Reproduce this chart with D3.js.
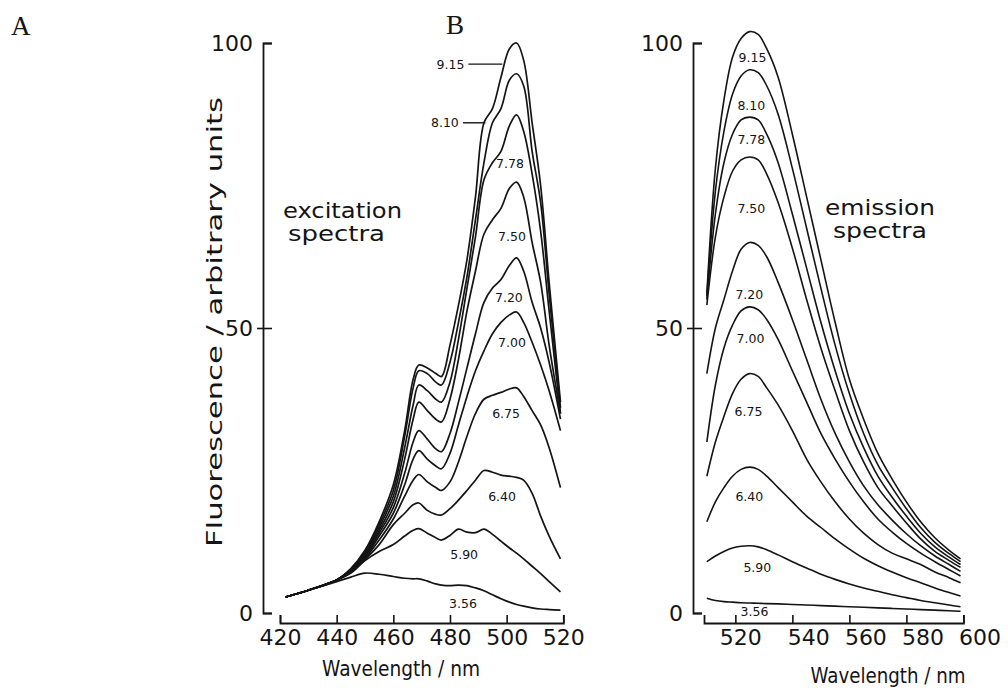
<!DOCTYPE html>
<html><head><meta charset="utf-8">
<script src="https://cdn.jsdelivr.net/npm/d3@7"></script>
<style>
html,body{margin:0;padding:0;background:#fff;}
svg{display:block;}
</style></head><body>
<svg id="chart" width="1008" height="691"></svg>
<script>
// ---------------- data ----------------
const pHLabels = ["9.15","8.10","7.78","7.50","7.20","7.00","6.75","6.40","5.90","3.56"];

const excitationWavelengths = [422,430,440,445,450,455,460,464,467,469,472,475,477,480,483,486,489,492,495,498,501,503.5,506,509,512,515,519];
const ex_915 = [2.8,4.0,5.8,7.8,11,16,22.5,32,41,43.5,43,42,41.5,47,54,62,73,86,88.5,94,99,100,97,86,75,58,37];
const ex_810 = [2.8,4.0,5.8,7.7,10.8,15.5,21.5,31,39.5,42.5,42,40.5,40,44,51,59,69,79,86,88.5,93.5,94.6,92.5,81,72,56,36];
const ex_778 = [2.8,4.0,5.8,7.6,10.5,15,20.5,29,36.5,40,39,37.5,37,40.5,48,57,66,76,79,81,85.5,87.4,84.5,77,67,53,35];
const ex_750 = [2.8,4.0,5.8,7.5,10.3,14.5,19.5,27,34,37,35.5,34,33.5,37.5,44.5,53,60,66.5,69,71,74.5,75.6,73,65,58,47,35];
const ex_720 = [2.8,4.0,5.8,7.4,10,14,18.5,24.5,30,32,30.5,28.8,28.3,31.5,37,43,49,54.5,57,58.5,61,62.3,60,54.5,50,44,34];
const ex_700 = [2.8,4.0,5.8,7.3,9.8,13.5,17.5,22.5,27,28.5,27,25.8,25.3,28,33,38,42.5,46,49,51,52.3,52.8,51,47.5,43.5,39,32];
const ex_675 = [2.8,4.0,5.8,7.2,9.6,12.8,16.5,20.5,23.3,24.3,23,22,21.5,23,26.5,31,35,37.5,38.2,38.7,39.3,39.5,38,35.5,33,29,22];
const ex_640 = [2.8,4.0,5.8,7.1,9.4,12,15.5,17.5,19,19.3,18,17.3,17.2,18.3,19.8,21.5,23.3,25,24.7,24.2,24,23.8,23.3,21,17,13.5,9.5];
const ex_590 = [2.8,4.0,5.8,7.0,9.2,10.8,12,13.5,14.5,14.8,14,13.2,12.8,13.6,14.7,14.2,14.1,14.7,13.8,12.6,11.4,10.5,9.5,8.2,6.9,5.5,3.7];
const ex_356 = [2.8,4.0,5.5,6.3,7.0,6.8,6.4,6.1,6.0,6.0,5.6,5.1,4.9,4.8,4.9,4.8,4.4,3.9,3.2,2.5,1.9,1.5,1.2,0.9,0.7,0.6,0.5];

const emissionWavelengths = [510,513,516,519,522,525,528,531,535,540,545,550,555,560,565,570,575,580,585,590,595,599];
const em_915 = [56,78,90,97.5,100.8,102,101.5,99,94,84,73,62,51,41,34,28,23.5,19.5,16,13.2,11,9.5];
const em_810 = [55.5,74,84.5,91,94.2,95.3,94.8,92.5,87.5,78,67.5,57,47,38.5,31.5,26,22,18.3,15,12.4,10.4,9];
const em_778 = [55,70,79,84,86.5,87,86.5,84,79,70,60.5,51,42.5,35,29,24,20.3,17,14,11.6,9.8,8.5];
const em_750 = [54,66,73,77.5,79.5,80,79.5,77,72,64,55,46.5,39,32,26.5,22,18.8,15.8,13,10.8,9.2,8];
const em_720 = [42,50,55,60,63.8,65,64.5,62.5,58,51.5,44.5,37.5,31.5,26.5,22.3,19,16.3,13.9,11.8,10,8.5,7.3];
const em_700 = [30,40,46.5,50.5,53,53.7,53.2,51.5,48,42.5,37,31.5,27,23,19.5,16.5,14.2,12.2,10.5,9,7.6,6.5];
const em_675 = [24,30,34.5,38.5,41,42,41.5,39.5,36.5,32,27,23,19.5,16.5,14,12,10.5,9.5,8.5,7.2,6.2,5.3];
const em_640 = [16,19.5,22,24,25.2,25.6,25.2,24,22,19.5,17,15,13,11.2,9.6,8.3,7.2,6.2,5.3,4.4,3.6,3];
const em_590 = [9,10,10.8,11.4,11.7,11.8,11.6,11.1,10.2,9,7.9,6.8,5.9,5.1,4.4,3.8,3.2,2.7,2.2,1.8,1.4,1.1];
const em_356 = [2.6,2.2,2.0,1.9,1.8,1.75,1.7,1.65,1.6,1.5,1.4,1.3,1.2,1.1,1.0,0.9,0.8,0.7,0.6,0.5,0.4,0.3];

const excitationSeries = [ex_915,ex_810,ex_778,ex_750,ex_720,ex_700,ex_675,ex_640,ex_590,ex_356];
const emissionSeries = [em_915,em_810,em_778,em_750,em_720,em_700,em_675,em_640,em_590,em_356];

const yTicks = [0,50,100];
const leftXTicks = [420,440,460,480,500,520];
const rightXTicks = [520,540,560,580,600];

// label anchors in data units (wavelength, fluorescence)
const excitationLabelAnchors = [[480.2,96.3],[478.2,86],[501.2,78.8],[501.9,66],[500.8,55.4],[501.9,47.4],[499.8,35],[498.4,20.4],[485,10.2],[484.6,1.75]];
const excitationLeaders = [[486.5,498.5,96.3],[484.6,492.5,86]];
const emissionLabelAnchors = [[526,97.4],[525.6,89],[525.6,83],[525.6,71],[524.9,55.8],[525.3,48.2],[524.6,35.3],[524.9,20.4],[527.7,7.9],[526.7,0.3]];

// ---------------- drawing ----------------
const svg = d3.select("#chart");
const FONT = "'DejaVu Sans', sans-serif";
const INK = "#141414";

const xL = d3.scaleLinear().domain([420,520]).range([280,563.3]);
const xR = d3.scaleLinear().domain([509,600]).range([704,963.4]);
const y = d3.scaleLinear().domain([0,100]).range([613,43]);

function styleAxis(g, fs){
  g.select(".domain").attr("stroke",INK).attr("stroke-width",1.8).attr("fill","none");
  g.selectAll(".tick line").attr("stroke",INK).attr("stroke-width",1.6);
  g.selectAll(".tick text").attr("fill",INK).style("font-family",FONT).style("font-size",fs+"px");
}

// Y axes
[263,693].forEach(xpos=>{
  const g = svg.append("g").attr("transform",`translate(${xpos},0)`)
    .call(d3.axisLeft(y).tickValues(yTicks).tickSizeInner(-9).tickSizeOuter(-9).tickPadding(10).tickFormat(d3.format("d")));
  styleAxis(g,22);
  g.selectAll(".tick").filter(d=>d===50).append("line")
    .attr("x1",-6).attr("x2",0).attr("stroke",INK).attr("stroke-width",1.6);
});

// X axes
const gxL = svg.append("g").attr("transform","translate(0,623)")
  .call(d3.axisBottom(xL).tickValues(leftXTicks).tickSizeInner(-8).tickSizeOuter(-8).tickPadding(6).tickFormat(d3.format("d")));
styleAxis(gxL,22);
const gxR = svg.append("g").attr("transform","translate(0,623)")
  .call(d3.axisBottom(xR).tickValues(rightXTicks).tickSizeInner(-8).tickSizeOuter(-8).tickPadding(6).tickFormat(d3.format("d")));
styleAxis(gxR,22);
gxR.selectAll(".tick text").attr("dx", d => d===520 ? 5 : 16);

// curves
const lineL = d3.line().x((d,i)=>xL(excitationWavelengths[i])).y(d=>y(d)).curve(d3.curveCatmullRom.alpha(0.5));
const lineR = d3.line().x((d,i)=>xR(emissionWavelengths[i])).y(d=>y(d)).curve(d3.curveCatmullRom.alpha(0.5));

svg.append("g").selectAll("path").data(excitationSeries).join("path")
  .attr("d",lineL).attr("fill","none").attr("stroke",INK).attr("stroke-width",1.7).attr("stroke-linejoin","round");
svg.append("g").selectAll("path").data(emissionSeries).join("path")
  .attr("d",lineR).attr("fill","none").attr("stroke",INK).attr("stroke-width",1.6).attr("stroke-linejoin","round");

// curve labels
svg.append("g").selectAll("text").data(pHLabels).join("text")
  .attr("x",(d,i)=>xL(excitationLabelAnchors[i][0]))
  .attr("y",(d,i)=>y(excitationLabelAnchors[i][1]))
  .attr("text-anchor","middle").attr("dominant-baseline","central")
  .style("font-family",FONT).style("font-size","12.5px").attr("fill",INK).text(d=>d);
svg.append("g").selectAll("line").data(excitationLeaders).join("line")
  .attr("x1",d=>xL(d[0])).attr("x2",d=>xL(d[1])).attr("y1",d=>y(d[2])).attr("y2",d=>y(d[2]))
  .attr("stroke",INK).attr("stroke-width",1.4);
svg.append("g").selectAll("text").data(pHLabels).join("text")
  .attr("x",(d,i)=>xR(emissionLabelAnchors[i][0]))
  .attr("y",(d,i)=>y(emissionLabelAnchors[i][1]))
  .attr("text-anchor","middle").attr("dominant-baseline","central")
  .style("font-family",FONT).style("font-size","12.5px").attr("fill",INK).text(d=>d);

// annotations
function txt(x,yy,s,fs,opts={}){
  const t = svg.append("text").attr("x",x).attr("y",yy).text(s)
    .style("font-family",opts.font||FONT).style("font-size",fs+"px").attr("fill",INK)
    .attr("text-anchor",opts.anchor||"start");
  if(opts.len){ t.attr("textLength",opts.len).attr("lengthAdjust","spacingAndGlyphs"); }
  if(opts.transform) t.attr("transform",opts.transform);
  return t;
}
txt(283,218,"excitation",22,{len:119});
txt(288,241,"spectra",22,{len:97});
txt(825,215,"emission",22,{len:110});
txt(833,238,"spectra",22,{len:94});

txt(401,676,"Wavelength / nm",21,{anchor:"middle",len:158});
txt(888,683,"Wavelength / nm",21,{anchor:"middle",len:155});
txt(0,0,"Fluorescence / arbitrary units",22,{anchor:"middle",len:450,transform:"translate(222,322) rotate(-90)"});

txt(11,35,"A",27,{font:"'Liberation Serif', serif"});
txt(446,34,"B",27,{font:"'Liberation Serif', serif"});
</script>
</body></html>
